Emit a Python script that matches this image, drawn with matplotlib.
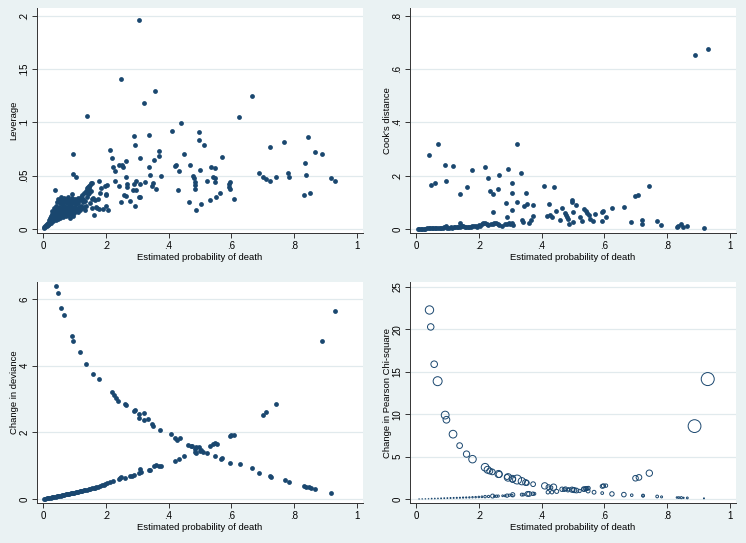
import matplotlib
matplotlib.use("Agg")
import matplotlib.pyplot as plt
import matplotlib.ticker as mticker

# ── data ──────────────────────────────────────────────────────────────────────
# Panel 1: leverage vs estimated probability
lev_pts = [
    (0.306, 0.196), (0.248, 0.141), (0.357, 0.130), (0.322, 0.118), (0.141, 0.106),
    (0.664, 0.125), (0.625, 0.105), (0.440, 0.0994), (0.411, 0.092), (0.496, 0.0906),
    (0.337, 0.0884), (0.290, 0.0875), (0.844, 0.0865), (0.768, 0.0818), (0.497, 0.0834),
    (0.512, 0.0793), (0.293, 0.0793), (0.722, 0.0768), (0.213, 0.0746), (0.370, 0.0734),
    (0.096, 0.0705), (0.865, 0.0721), (0.888, 0.0705), (0.449, 0.0708), (0.371, 0.0687),
    (0.309, 0.0671), (0.220, 0.0668), (0.570, 0.0674), (0.353, 0.0652), (0.265, 0.0640),
    (0.833, 0.0618), (0.469, 0.0599), (0.419, 0.0593), (0.425, 0.0605), (0.243, 0.0596),
    (0.252, 0.0599), (0.255, 0.0583), (0.222, 0.058), (0.338, 0.058), (0.536, 0.0583),
    (0.549, 0.057), (0.501, 0.0558), (0.433, 0.0545), (0.781, 0.053), (0.687, 0.0527),
    (0.095, 0.0517), (0.230, 0.0542), (0.837, 0.0502), (0.342, 0.0502), (0.377, 0.0495),
    (0.477, 0.0495), (0.743, 0.0492), (0.783, 0.0489), (0.700, 0.0486), (0.710, 0.0473),
    (0.917, 0.0483), (0.541, 0.0486), (0.105, 0.0486), (0.264, 0.0486), (0.482, 0.0483),
    (0.547, 0.0483), (0.930, 0.0455), (0.722, 0.0448), (0.522, 0.0455), (0.549, 0.0445),
    (0.597, 0.0445), (0.485, 0.0445), (0.229, 0.0455), (0.295, 0.0451), (0.324, 0.0442),
    (0.350, 0.0436), (0.346, 0.0408), (0.359, 0.0376), (0.308, 0.0426), (0.289, 0.042),
    (0.269, 0.0426), (0.243, 0.040), (0.266, 0.0392), (0.593, 0.0426), (0.591, 0.0395),
    (0.594, 0.0376), (0.483, 0.0417), (0.484, 0.0373), (0.430, 0.0367), (0.564, 0.0342),
    (0.849, 0.0342), (0.831, 0.032), (0.286, 0.037), (0.297, 0.037), (0.258, 0.0323),
    (0.263, 0.0307), (0.278, 0.026), (0.248, 0.0257), (0.309, 0.0301), (0.306, 0.0298),
    (0.293, 0.022), (0.552, 0.0301), (0.532, 0.027), (0.503, 0.0235), (0.464, 0.0257),
    (0.487, 0.0176), (0.607, 0.0282), (0.207, 0.0176), (0.192, 0.0188), (0.201, 0.0216),
    (0.178, 0.0185), (0.200, 0.0317), (0.201, 0.0332), (0.203, 0.0417), (0.199, 0.040),
    (0.186, 0.0389), (0.182, 0.0342), (0.176, 0.0282), (0.180, 0.0455), (0.156, 0.043),
    (0.039, 0.037),
    # dense cluster near the origin
    (0.002, 0.001), (0.004, 0.002), (0.006, 0.003), (0.008, 0.002), (0.010, 0.004),
    (0.012, 0.003), (0.013, 0.005), (0.015, 0.004), (0.016, 0.006), (0.018, 0.005),
    (0.019, 0.008), (0.020, 0.006), (0.021, 0.010), (0.022, 0.007), (0.024, 0.009),
    (0.025, 0.012), (0.026, 0.006), (0.027, 0.011), (0.028, 0.014), (0.029, 0.008),
    (0.030, 0.017), (0.031, 0.010), (0.032, 0.013), (0.033, 0.007), (0.034, 0.016),
    (0.035, 0.011), (0.036, 0.020), (0.037, 0.009), (0.038, 0.014), (0.039, 0.018),
    (0.040, 0.012), (0.041, 0.022), (0.042, 0.008), (0.043, 0.016), (0.044, 0.025),
    (0.045, 0.011), (0.046, 0.019), (0.047, 0.014), (0.048, 0.028), (0.049, 0.009),
    (0.050, 0.021), (0.051, 0.016), (0.052, 0.012), (0.053, 0.024), (0.054, 0.018),
    (0.055, 0.010), (0.056, 0.027), (0.057, 0.014), (0.058, 0.020), (0.059, 0.030),
    (0.060, 0.012), (0.061, 0.023), (0.062, 0.017), (0.063, 0.026), (0.064, 0.011),
    (0.065, 0.020), (0.066, 0.015), (0.067, 0.029), (0.068, 0.022), (0.069, 0.013),
    (0.070, 0.018), (0.071, 0.025), (0.072, 0.016), (0.073, 0.021), (0.074, 0.012),
    (0.075, 0.028), (0.076, 0.019), (0.077, 0.014), (0.078, 0.024), (0.079, 0.017),
    (0.080, 0.030), (0.081, 0.013), (0.082, 0.022), (0.083, 0.027), (0.084, 0.016),
    (0.085, 0.020), (0.086, 0.010), (0.087, 0.025), (0.088, 0.018), (0.089, 0.014),
    (0.090, 0.023), (0.091, 0.029), (0.092, 0.033), (0.093, 0.017), (0.094, 0.021),
    (0.095, 0.026), (0.096, 0.012), (0.098, 0.019), (0.099, 0.024), (0.100, 0.015),
    (0.101, 0.028), (0.102, 0.021), (0.104, 0.017), (0.105, 0.026), (0.106, 0.023),
    (0.108, 0.019), (0.110, 0.029), (0.112, 0.016), (0.113, 0.024), (0.115, 0.021),
    (0.117, 0.027), (0.118, 0.018), (0.120, 0.030), (0.122, 0.022), (0.124, 0.032),
    (0.125, 0.020), (0.127, 0.025), (0.128, 0.028), (0.130, 0.021), (0.132, 0.034),
    (0.133, 0.018), (0.135, 0.026), (0.136, 0.036), (0.138, 0.022), (0.139, 0.038),
    (0.140, 0.030), (0.141, 0.035), (0.142, 0.037), (0.143, 0.039), (0.144, 0.033),
    (0.145, 0.036), (0.146, 0.040), (0.147, 0.034), (0.148, 0.038), (0.150, 0.041),
    (0.150, 0.024), (0.152, 0.036), (0.153, 0.043), (0.155, 0.028), (0.157, 0.020),
    (0.160, 0.029), (0.162, 0.013), (0.165, 0.027), (0.168, 0.021), (0.172, 0.020),
]

# Panel 2: Cook's distance
cook_pts = [
    (0.929, 0.675), (0.887, 0.652), (0.069, 0.320), (0.321, 0.320), (0.042, 0.278),
    (0.092, 0.242), (0.119, 0.237), (0.219, 0.232), (0.293, 0.224), (0.180, 0.223),
    (0.336, 0.209), (0.265, 0.203), (0.229, 0.191), (0.097, 0.179), (0.307, 0.173),
    (0.060, 0.173), (0.047, 0.167), (0.161, 0.158), (0.409, 0.161), (0.438, 0.157),
    (0.742, 0.161), (0.262, 0.150), (0.235, 0.142), (0.244, 0.130), (0.351, 0.137),
    (0.139, 0.130), (0.305, 0.134), (0.698, 0.125), (0.708, 0.128), (0.496, 0.110),
    (0.497, 0.102), (0.286, 0.099), (0.323, 0.100), (0.423, 0.094), (0.510, 0.090),
    (0.373, 0.089), (0.355, 0.095), (0.345, 0.088), (0.662, 0.083), (0.623, 0.078),
    (0.466, 0.078), (0.534, 0.075), (0.541, 0.069), (0.595, 0.069), (0.591, 0.064),
    (0.307, 0.071), (0.447, 0.066), (0.500, 0.063), (0.474, 0.061), (0.545, 0.061),
    (0.244, 0.063), (0.569, 0.058), (0.479, 0.054), (0.550, 0.054), (0.373, 0.050),
    (0.418, 0.049), (0.426, 0.051), (0.433, 0.045), (0.482, 0.044), (0.521, 0.044),
    (0.605, 0.046), (0.721, 0.035), (0.289, 0.044), (0.337, 0.035), (0.367, 0.034),
    (0.553, 0.039), (0.483, 0.038), (0.460, 0.033), (0.530, 0.031), (0.342, 0.028),
    (0.361, 0.024), (0.563, 0.030), (0.501, 0.026), (0.593, 0.030), (0.767, 0.030),
    (0.686, 0.026), (0.721, 0.020), (0.486, 0.018), (0.781, 0.016), (0.844, 0.018),
    (0.834, 0.013), (0.831, 0.009), (0.862, 0.013), (0.850, 0.006), (0.916, 0.004),
    (0.005, 0.0005), (0.010, 0.001), (0.015, 0.001), (0.020, 0.001), (0.025, 0.001),
    (0.030, 0.001), (0.035, 0.002), (0.040, 0.002), (0.045, 0.002), (0.050, 0.002),
    (0.055, 0.002), (0.060, 0.003), (0.065, 0.003), (0.070, 0.003), (0.075, 0.003),
    (0.080, 0.004), (0.085, 0.004), (0.090, 0.006), (0.095, 0.010), (0.100, 0.005),
    (0.105, 0.004), (0.110, 0.006), (0.115, 0.005), (0.120, 0.006), (0.125, 0.007),
    (0.130, 0.006), (0.135, 0.008), (0.140, 0.007), (0.145, 0.010), (0.150, 0.012),
    (0.155, 0.009), (0.160, 0.008), (0.165, 0.007), (0.170, 0.006), (0.175, 0.009),
    (0.180, 0.012), (0.185, 0.011), (0.190, 0.013), (0.195, 0.009), (0.200, 0.015),
    (0.205, 0.012), (0.210, 0.020), (0.215, 0.024), (0.220, 0.022), (0.225, 0.017),
    (0.230, 0.016), (0.240, 0.018), (0.245, 0.020), (0.250, 0.023), (0.255, 0.021),
    (0.260, 0.017), (0.265, 0.014), (0.275, 0.013), (0.285, 0.020), (0.290, 0.017),
    (0.295, 0.022), (0.300, 0.018), (0.305, 0.021), (0.310, 0.016), (0.140, 0.024),
]

# Panel 3: change in deviance
dev_pts = [
    # deaths
    (0.042, 6.38), (0.047, 6.18), (0.058, 5.72), (0.068, 5.51), (0.091, 4.88),
    (0.097, 4.75), (0.117, 4.42), (0.138, 4.04), (0.160, 3.76), (0.178, 3.59),
    (0.219, 3.22), (0.226, 3.11), (0.233, 3.02), (0.240, 2.95), (0.261, 2.85),
    (0.263, 2.82), (0.289, 2.63), (0.292, 2.67), (0.306, 2.54), (0.307, 2.44),
    (0.321, 2.57), (0.322, 2.37), (0.335, 2.40), (0.347, 2.24), (0.351, 2.20),
    (0.372, 2.07), (0.409, 1.96), (0.421, 1.82), (0.428, 1.76), (0.436, 1.83),
    (0.463, 1.61), (0.470, 1.59), (0.483, 1.51), (0.496, 1.55), (0.510, 1.42),
    (0.504, 1.47), (0.548, 1.29), (0.567, 1.20), (0.570, 1.22), (0.594, 1.08),
    (0.626, 1.04), (0.666, 0.92), (0.688, 0.79), (0.724, 0.69), (0.725, 0.66),
    (0.770, 0.56), (0.783, 0.52), (0.832, 0.38), (0.839, 0.37), (0.846, 0.35),
    (0.853, 0.32), (0.865, 0.30), (0.916, 0.17),
    # survivors
    (0.887, 4.74), (0.930, 5.63), (0.743, 2.86), (0.701, 2.53), (0.711, 2.62),
    (0.594, 1.90), (0.600, 1.93), (0.607, 1.92), (0.555, 1.66), (0.548, 1.67),
    (0.541, 1.64), (0.533, 1.58), (0.522, 1.37), (0.499, 1.43), (0.483, 1.41),
    (0.488, 1.37), (0.486, 1.55), (0.475, 1.58), (0.448, 1.28), (0.434, 1.20),
    (0.420, 1.15), (0.377, 1.00), (0.371, 0.99), (0.359, 1.03), (0.355, 0.98),
    (0.342, 0.88), (0.337, 0.88), (0.308, 0.91), (0.306, 0.77), (0.312, 0.80),
    (0.291, 0.72), (0.284, 0.69), (0.276, 0.68), (0.260, 0.62), (0.246, 0.63),
    (0.241, 0.60), (0.249, 0.66), (0.224, 0.55), (0.214, 0.52), (0.204, 0.48),
    (0.198, 0.46), (0.193, 0.43), (0.188, 0.41), (0.183, 0.38), (0.176, 0.37),
    (0.170, 0.35), (0.165, 0.34), (0.161, 0.33), (0.155, 0.32), (0.150, 0.31),
    (0.145, 0.30), (0.140, 0.28), (0.135, 0.27), (0.130, 0.26), (0.125, 0.25),
    (0.120, 0.24), (0.117, 0.23), (0.112, 0.22), (0.108, 0.21), (0.104, 0.20),
    (0.100, 0.19), (0.096, 0.18), (0.092, 0.18), (0.088, 0.17), (0.084, 0.16),
    (0.080, 0.15), (0.076, 0.14), (0.072, 0.14), (0.068, 0.13), (0.064, 0.12),
    (0.060, 0.11), (0.056, 0.10), (0.052, 0.09), (0.048, 0.09), (0.044, 0.08),
    (0.040, 0.07), (0.036, 0.06), (0.032, 0.05), (0.028, 0.05), (0.024, 0.04),
    (0.020, 0.03), (0.016, 0.03), (0.012, 0.02), (0.008, 0.01), (0.004, 0.01),
]

# Panel 4: change in Pearson chi-square, marker weight (area)
chi_pts = [
    # deaths
    (0.043, 22.3, 0.278), (0.047, 20.3, 0.167), (0.058, 15.9, 0.173), (0.069, 13.9, 0.320),
    (0.093, 9.9, 0.242), (0.097, 9.35, 0.179), (0.118, 7.65, 0.237), (0.139, 6.3, 0.130),
    (0.161, 5.3, 0.158), (0.180, 4.7, 0.223), (0.220, 3.75, 0.232), (0.228, 3.45, 0.191),
    (0.235, 3.3, 0.142), (0.243, 3.2, 0.130), (0.263, 2.95, 0.203), (0.265, 2.9, 0.150),
    (0.290, 2.6, 0.099), (0.293, 2.55, 0.224), (0.307, 2.4, 0.173), (0.308, 2.3, 0.134),
    (0.322, 2.3, 0.320), (0.337, 2.1, 0.209), (0.349, 1.95, 0.137), (0.353, 1.9, 0.095),
    (0.373, 1.75, 0.089), (0.410, 1.55, 0.161), (0.422, 1.4, 0.094), (0.430, 1.35, 0.051),
    (0.438, 1.4, 0.157), (0.465, 1.15, 0.078), (0.472, 1.12, 0.061), (0.484, 1.05, 0.054),
    (0.497, 1.1, 0.110), (0.504, 1.05, 0.102), (0.511, 1.0, 0.090), (0.521, 0.95, 0.044),
    (0.535, 1.15, 0.075), (0.541, 1.2, 0.069), (0.548, 0.95, 0.061), (0.567, 0.8, 0.058),
    (0.593, 0.7, 0.030), (0.624, 0.6, 0.078), (0.662, 0.52, 0.083), (0.687, 0.45, 0.026),
    (0.723, 0.40, 0.035), (0.723, 0.38, 0.020), (0.768, 0.30, 0.030), (0.782, 0.25, 0.016),
    (0.831, 0.18, 0.009), (0.837, 0.17, 0.013), (0.845, 0.16, 0.018), (0.852, 0.14, 0.006),
    (0.864, 0.13, 0.013), (0.917, 0.08, 0.004),
    # survivors
    (0.929, 14.15, 0.675), (0.887, 8.6, 0.652), (0.743, 3.05, 0.161), (0.699, 2.45, 0.125),
    (0.710, 2.55, 0.128), (0.593, 1.5, 0.064), (0.597, 1.55, 0.069), (0.605, 1.58, 0.046),
    (0.549, 1.28, 0.054), (0.545, 1.25, 0.061), (0.541, 1.22, 0.066), (0.534, 1.18, 0.075),
    (0.500, 1.1, 0.063), (0.486, 1.15, 0.044), (0.476, 1.2, 0.062), (0.448, 0.9, 0.066),
    (0.433, 0.8, 0.045), (0.420, 0.8, 0.049), (0.377, 0.62, 0.033), (0.372, 0.62, 0.050),
    (0.360, 0.6, 0.095), (0.355, 0.6, 0.088), (0.342, 0.52, 0.028), (0.337, 0.52, 0.035),
    (0.308, 0.5, 0.071), (0.306, 0.42, 0.017), (0.297, 0.45, 0.020), (0.290, 0.4, 0.044),
    (0.284, 0.38, 0.015), (0.276, 0.38, 0.012), (0.262, 0.35, 0.018), (0.256, 0.33, 0.022),
    (0.250, 0.32, 0.014), (0.244, 0.35, 0.062), (0.231, 0.3, 0.020), (0.220, 0.28, 0.024),
    (0.210, 0.26, 0.012), (0.200, 0.24, 0.010), (0.190, 0.22, 0.009), (0.180, 0.21, 0.008),
    (0.170, 0.19, 0.007), (0.160, 0.18, 0.006), (0.150, 0.17, 0.006), (0.140, 0.15, 0.005),
    (0.130, 0.14, 0.005), (0.120, 0.13, 0.004), (0.110, 0.12, 0.004), (0.100, 0.11, 0.003),
    (0.090, 0.10, 0.003), (0.080, 0.08, 0.003), (0.070, 0.07, 0.002), (0.060, 0.06, 0.002),
    (0.050, 0.05, 0.002), (0.040, 0.04, 0.001), (0.030, 0.03, 0.001), (0.020, 0.02, 0.001),
    (0.010, 0.01, 0.001),
]

X_LABEL = "Estimated probability of death"
X_TICKS = [0, 0.2, 0.4, 0.6, 0.8, 1]

# ── style ─────────────────────────────────────────────────────────────────────
BG = "#EAF2F3"
NAVY = "#1A476F"
GRID = "#E1EAED"
plt.rcParams["font.family"] = ["Liberation Sans", "DejaVu Sans"]
plt.rcParams["font.size"] = 7


def _stata_fmt(v, _pos):
    s = f"{v:g}"
    if s.startswith("0."):
        s = s[1:]
    return s


def _style(ax, ylim, yticks, ylabel):
    ax.set_facecolor("white")
    for side in ("top", "right"):
        ax.spines[side].set_visible(False)
    for side in ("left", "bottom"):
        ax.spines[side].set_color("#333333")
        ax.spines[side].set_linewidth(0.7)
    ax.set_xlim(-0.019, 1.019)
    ax.set_ylim(*ylim)
    ax.set_xticks(X_TICKS)
    ax.set_yticks(yticks)
    ax.xaxis.set_major_formatter(mticker.FuncFormatter(_stata_fmt))
    ax.yaxis.set_major_formatter(mticker.FuncFormatter(_stata_fmt))
    ax.tick_params(axis="both", length=3.5, width=0.7, color="#333333", labelsize=7, pad=2)
    for lab in ax.get_yticklabels():
        lab.set_rotation(90)
        lab.set_va("center")
    ax.yaxis.grid(True, color=GRID, linewidth=0.9)
    ax.set_axisbelow(True)
    ax.set_xlabel(X_LABEL, fontsize=6.8, labelpad=2)
    ax.set_ylabel(ylabel, fontsize=6.8, labelpad=0.5)


fig = plt.figure(figsize=(7.46, 5.43), dpi=100, facecolor=BG)
W, H = 746, 543
ax1 = fig.add_axes([37 / W, (H - 233) / H, 326 / W, 225 / H])
ax2 = fig.add_axes([410 / W, (H - 233) / H, 326 / W, 225 / H])
ax3 = fig.add_axes([37 / W, (H - 503) / H, 326 / W, 221 / H])
ax4 = fig.add_axes([410 / W, (H - 503) / H, 326 / W, 221 / H])

ax1.scatter([p[0] for p in lev_pts], [p[1] for p in lev_pts], s=12, color=NAVY, linewidths=0)
_style(ax1, (-0.0038, 0.2075), [0, 0.05, 0.1, 0.15, 0.2], "Leverage")

ax2.scatter([p[0] for p in cook_pts], [p[1] for p in cook_pts], s=12, color=NAVY, linewidths=0)
_style(ax2, (-0.015, 0.83), [0, 0.2, 0.4, 0.6, 0.8], "Cook's distance")

ax3.scatter([p[0] for p in dev_pts], [p[1] for p in dev_pts], s=12, color=NAVY, linewidths=0)
_style(ax3, (-0.12, 6.51), [0, 2, 4, 6], "Change in deviance")

ax4.scatter([p[0] for p in chi_pts], [p[1] for p in chi_pts],
            s=[130 * p[2] for p in chi_pts], facecolors="none", edgecolors=NAVY, linewidths=0.7)
_style(ax4, (-0.47, 25.6), [0, 5, 10, 15, 20, 25], "Change in Pearson Chi-square")

fig.savefig("out.png", dpi=100, facecolor=BG)
